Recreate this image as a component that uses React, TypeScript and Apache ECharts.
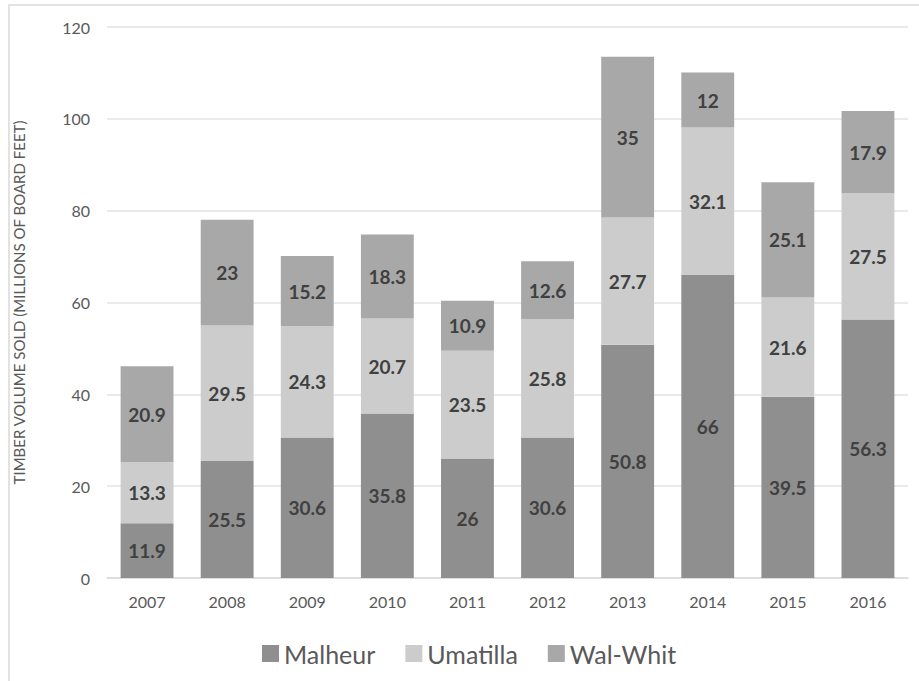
import React, { useEffect, useRef } from "react";
import * as echarts from "echarts";

const years = ["2007", "2008", "2009", "2010", "2011", "2012", "2013", "2014", "2015", "2016"];
const malheur = [11.9, 25.5, 30.6, 35.8, 26, 30.6, 50.8, 66, 39.5, 56.3];
const umatilla = [13.3, 29.5, 24.3, 20.7, 23.5, 25.8, 27.7, 32.1, 21.6, 27.5];
const walWhit = [20.9, 23, 15.2, 18.3, 10.9, 12.6, 35, 12, 25.1, 17.9];
const yTicks = { min: 0, max: 120, interval: 20 };

const FONT = "Lato, 'Open Sans', sans-serif";
const TEXT = "#595959";

const seriesDefs = [
  { name: "Malheur", data: malheur, color: "#8f8f8f" },
  { name: "Umatilla", data: umatilla, color: "#cccccc" },
  { name: "Wal-Whit", data: walWhit, color: "#a8a8a8" },
];

export default function App() {
  const ref = useRef<HTMLDivElement>(null);

  useEffect(() => {
    if (!ref.current) return;
    const chart = echarts.init(ref.current, null, { renderer: "svg" });
    chart.setOption({
      animation: false,
      backgroundColor: "#ffffff",
      textStyle: { fontFamily: FONT },
      graphic: [
        {
          type: "rect",
          shape: { x: 9, y: 5, width: 915, height: 690 },
          style: { fill: "none", stroke: "#d9d9d9", lineWidth: 1.5 },
          silent: true,
        },
      ],
      grid: { left: 107, right: 11, top: 27, bottom: 103, containLabel: false },
      legend: {
        left: 257,
        top: 636,
        itemWidth: 17,
        itemHeight: 17,
        itemGap: 30,
        icon: "rect",
        textStyle: { fontSize: 25, color: TEXT, fontFamily: FONT },
        data: seriesDefs.map((s) => s.name),
      },
      xAxis: {
        type: "category",
        data: years,
        axisLine: { lineStyle: { color: "#d9d9d9", width: 1.5 } },
        axisTick: { show: false },
        axisLabel: { color: TEXT, fontSize: 16, margin: 15, fontFamily: FONT },
      },
      yAxis: {
        type: "value",
        min: yTicks.min,
        max: yTicks.max,
        interval: yTicks.interval,
        name: "TIMBER VOLUME SOLD (MILLIONS OF BOARD FEET)",
        nameLocation: "middle",
        nameGap: 81,
        nameTextStyle: { color: TEXT, fontSize: 15, fontFamily: FONT },
        axisLine: { show: false },
        axisTick: { show: false },
        axisLabel: { color: TEXT, fontSize: 16, margin: 17, fontFamily: FONT },
        splitLine: { lineStyle: { color: "#e3e3e3", width: 1.5 } },
      },
      series: seriesDefs.map((s) => ({
        name: s.name,
        type: "bar",
        stack: "total",
        data: s.data,
        barCategoryGap: "34%",
        itemStyle: { color: s.color },
        label: {
          show: true,
          position: "inside",
          color: "#404040",
          fontWeight: "bold",
          fontSize: 19,
          fontFamily: FONT,
        },
      })),
    });
    return () => chart.dispose();
  }, []);

  return (
    <div
      ref={ref}
      style={{ position: "fixed", left: 0, top: 0, width: 919, height: 681 }}
    />
  );
}
